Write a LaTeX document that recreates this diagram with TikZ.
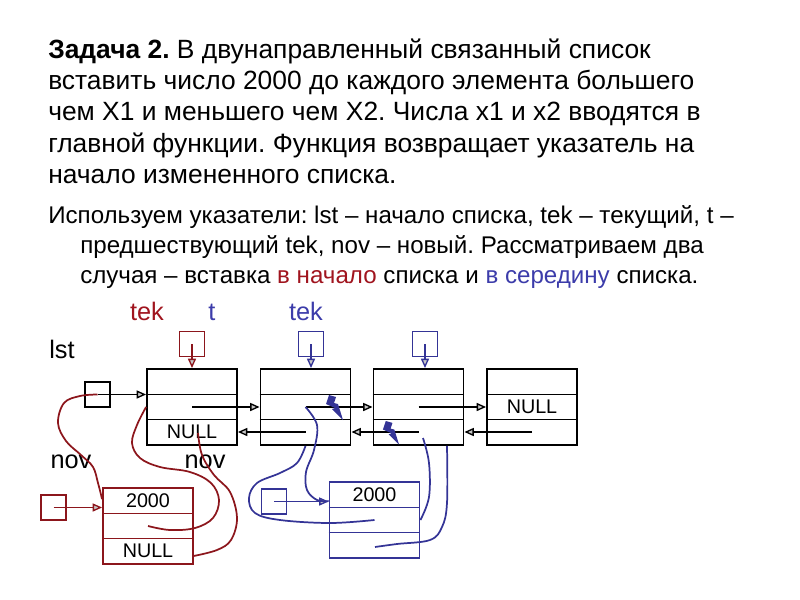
\documentclass[tikz,border=0pt]{standalone}
\usepackage{fontspec}
\setmainfont{Liberation Sans}
\usetikzlibrary{arrows.meta,calc}
\definecolor{dred}{RGB}{140,22,28}
\definecolor{dblue}{RGB}{52,52,150}
\definecolor{tred}{RGB}{160,20,30}
\definecolor{tblue}{RGB}{60,60,170}
\tikzset{
  txt/.style={anchor=base west,inner sep=0pt,font=\fontsize{19.8}{22}\selectfont},
  txtb/.style={anchor=base west,inner sep=0pt,font=\fontsize{18.1}{20}\selectfont},
  lbl/.style={anchor=base,inner sep=0pt,font=\fontsize{19}{20}\selectfont},
  lnode/.style={draw,line width=1.4pt,minimum width=67.5pt,minimum height=57pt,inner sep=0pt},
  ptr/.style={draw,line width=1.4pt,minimum width=18.75pt,minimum height=18.75pt,inner sep=0pt},
  cell/.style={inner sep=0pt,font=\fontsize{14.8}{15}\selectfont},
  arr/.style={line width=1pt,-{Triangle[length=7pt,width=6pt,fill=gray!45]}},
  hand/.style={line width=1.3pt,smooth,tension=0.6},
}
\newcommand{\rowlines}[2][black]{%
  \draw[#1,line width=1.4pt] ($(#2.west)+(0,-12.5)$) -- ($(#2.east)+(0,-12.5)$);
  \draw[#1,line width=1.4pt] ($(#2.west)+(0,12.5)$) -- ($(#2.east)+(0,12.5)$);}
\newcommand{\bolt}[3]{%
  \fill[dblue,shift={(#1,#2)},scale=#3] (4,0) -- (11,2) -- (9,8) -- (13,9) -- (18,25) -- (7,14) -- (10,13) -- (1,9) -- cycle;}
\begin{document}
\frenchspacing
\begin{tikzpicture}[x=0.75pt,y=-0.75pt]
\useasboundingbox (0,0) rectangle (800,600);
% ---- text ----
\node[txt] (l1) at (48,58) {\textbf{Задача 2.} В двунаправленный связанный список};
\node[txt] (l2) at (48,89) {вставить число 2000 до каждого элемента большего};
\node[txt] (l3) at (48,120) {чем X1 и меньшего чем X2. Числа x1 и x2 вводятся в};
\node[txt] (l4) at (48,152) {главной функции. Функция возвращает указатель на};
\node[txt] (l5) at (48,183) {начало измененного списка.};
\node[txtb] (p1) at (48,223) {Используем указатели: lst – начало списка, tek – текущий, t –};
\node[txtb] (p2) at (80,253) {предшествующий tek, nov – новый. Рассматриваем два};
\node[txtb] (p3) at (80,283) {случая – вставка \textcolor{tred}{в начало} списка и \textcolor{tblue}{в середину} списка.};
% ---- labels ----
\node[lbl,text=tred] (ltek1) at (147,320) {tek};
\node[lbl,text=tblue] (lt) at (212,320) {t};
\node[lbl,text=tblue] (ltek2) at (306,320) {tek};
\node[lbl] (llst) at (62,358) {lst};
\node[lbl] (lnov1) at (71,468) {nov};
\node[lbl] (lnov2) at (205,468) {nov};
% ---- list nodes ----
\node[lnode] (n1) at (192,407) {};
\node[lnode] (n2) at (305.5,407) {};
\node[lnode] (n3) at (418.5,407) {};
\node[lnode] (n4) at (532,407) {};
\rowlines{n1}\rowlines{n2}\rowlines{n3}\rowlines{n4}
\node[cell] (null1) at (192,432) {NULL};
\node[cell] (null4) at (532,407) {NULL};
% new nodes
\node[lnode,dred] (rn) at (148,526) {};
\rowlines[dred]{rn}
\node[cell] (rv) at (148,500.5) {2000};
\node[cell] (rnull) at (148,551) {NULL};
\node[lnode,dblue] (bn) at (374.5,520) {};
\rowlines[dblue]{bn}
\node[cell] (bv) at (374.5,494.5) {2000};
% pointer boxes
\node[ptr,dred] (pr) at (192,344) {};
\node[ptr,dblue] (pb2) at (311,344) {};
\node[ptr,dblue] (pb3) at (425,344) {};
\node[ptr] (plst) at (97.5,394.5) {};
\node[ptr,dred] (pnr) at (53.5,507.5) {};
\node[ptr,dblue] (pnb) at (274,501.5) {};
% pointer arrows
\draw[arr,dred] (pr.center) -- (pr.center |- n1.north);
\draw[arr,dblue] (pb2.center) -- (pb2.center |- n2.north);
\draw[arr,dblue] (pb3.center) -- (pb3.center |- n3.north);
\draw[arr] (plst.center) -- (plst.center -| n1.west);
\draw[arr,dred] (pnr.center) -- (pnr.center -| rn.west);
\draw[arr,dblue] (pnb.center) -- (pnb.center -| bn.west);
% next / prev arrows
\draw[arr] (n1.center) -- (n2.west);
\draw[arr] (n2.center) -- (n3.west);
\draw[arr] (n3.center) -- (n4.west);
\coordinate (n2p) at ($(n2.center)+(0,25)$);
\coordinate (n3p) at ($(n3.center)+(0,25)$);
\coordinate (n4p) at ($(n4.center)+(0,25)$);
\draw[arr] (n2p) -- (n2p -| n1.east);
\draw[arr] (n3p) -- (n3p -| n2.east);
\draw[arr] (n4p) -- (n4p -| n3.east);
% lightning
\bolt{325}{395}{1}
\bolt{382}{421}{0.95}
% red hand curves
\coordinate (c1e) at ($(rn.north west)+(0,12)$);
\draw[hand,dred] plot coordinates {(plst.center) (80,396) (64,403) (58,423) (66,441) (81,455) (93,467) (98,483) (c1e)};
\draw[hand,dred] plot coordinates {(rn.center) (170,530) (195,528) (213,518) (219,500) (211,483) (190,472) (160,467) (140,458) (132,443) (137,425) (n1.west)};
\coordinate (c3s) at (198,433);
\coordinate (c3e) at ($(rn.south east)+(0,-9)$);
\draw[hand,dred] plot coordinates {(c3s) (202,455) (214,475) (230,492) (237,518) (231,540) (217,550) (c3e)};
% blue hand curves
\coordinate (cAe) at ($(bn.north west)+(0,20)$);
\draw[hand,dblue] plot coordinates {(n2.center) (317,425) (314,450) (306,472) (307,490) (317,500) (cAe)};
\draw[hand,dblue] plot coordinates {(bn.center) (330,523) (280,520) (255,513) (249,498) (257,483) (280,473) (297,463) (n2.south)};
\coordinate (cCs) at (423,438);
\draw[hand,dblue] plot coordinates {(cCs) (429,463) (429,497) (bn.east)};
\coordinate (cDs) at (375,547);
\coordinate (cDe) at ($(n3.south)+(28.5,0)$);
\draw[hand,dblue] plot coordinates {(cDs) (397,544) (430,540) (442,527) (447,503) (cDe)};
\end{tikzpicture}
\end{document}
